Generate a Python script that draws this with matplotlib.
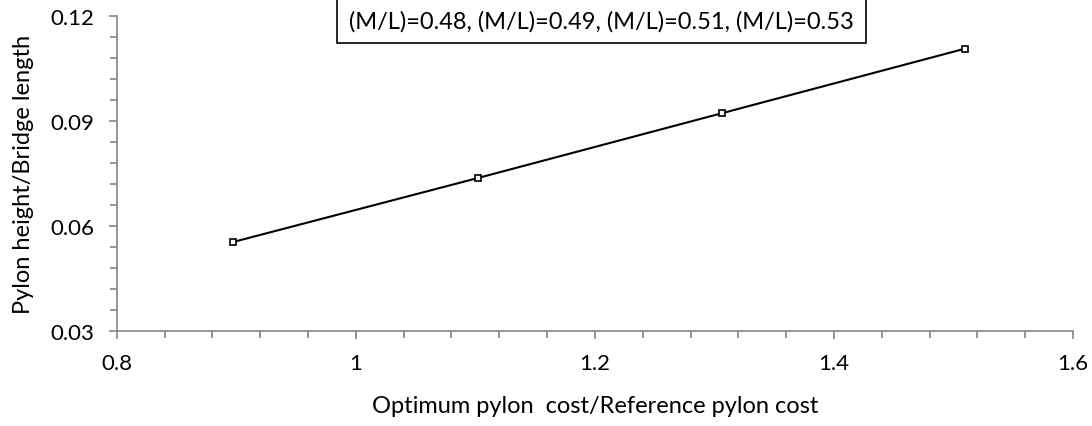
import matplotlib.pyplot as plt
from matplotlib.ticker import MultipleLocator

# data
cost_ratio = [0.897, 1.102, 1.306, 1.510]
height_ratio = [0.0554, 0.0737, 0.0922, 0.1107]
ml_values = ['0.48', '0.49', '0.51', '0.53']

plt.rcParams['font.family'] = ['Lato', 'DejaVu Sans']

fig = plt.figure(figsize=(10.92, 4.27), dpi=100)
ax = fig.add_axes([0.107, 0.2225, 0.8756, 0.7377])

ax.plot(cost_ratio, height_ratio, color='black', linewidth=1.5,
        marker='s', markersize=5, markerfacecolor='white',
        markeredgecolor='black', markeredgewidth=1.2)

ax.set_xlim(0.8, 1.6)
ax.set_ylim(0.03, 0.12)
ax.xaxis.set_major_locator(MultipleLocator(0.2))
ax.xaxis.set_minor_locator(MultipleLocator(0.04))
ax.yaxis.set_major_locator(MultipleLocator(0.03))
ax.yaxis.set_minor_locator(MultipleLocator(0.006))
ax.set_xticks([0.8, 1.0, 1.2, 1.4, 1.6], ['0.8', '1', '1.2', '1.4', '1.6'])
ax.set_yticks([0.03, 0.06, 0.09, 0.12], ['0.03', '0.06', '0.09', '0.12'])

gray = '#868686'
for side in ['top', 'right']:
    ax.spines[side].set_visible(False)
for side in ['left', 'bottom']:
    ax.spines[side].set_color(gray)
    ax.spines[side].set_linewidth(1.2)
ax.tick_params(which='both', direction='out', color=gray, width=1.2, labelsize=16)
ax.tick_params(which='major', length=6, pad=10)
ax.tick_params(which='minor', length=5)

ax.set_xlabel('Optimum pylon  cost/Reference pylon cost', fontsize=17, labelpad=16)
ax.set_ylabel('Pylon height/Bridge length', fontsize=17, labelpad=12)

label = ', '.join('(M/L)=' + v for v in ml_values)
fig.text(0.551, 0.95, label, fontsize=17, ha='center', va='center',
         bbox=dict(boxstyle='square,pad=0.5', facecolor='white', edgecolor='black', linewidth=1.2))

fig.savefig('out.png', dpi=100)
